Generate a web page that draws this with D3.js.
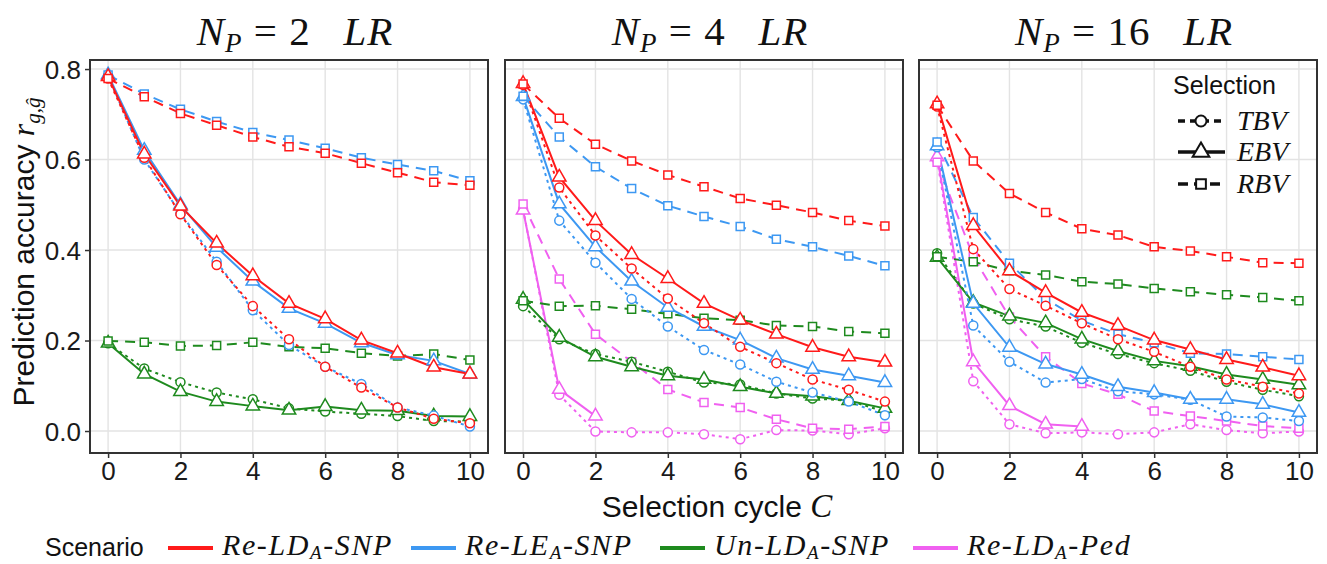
<!DOCTYPE html>
<html>
<head>
<meta charset="utf-8">
<script src="https://cdn.jsdelivr.net/npm/d3@7"></script>
<style>
  body { margin: 0; background: #fff; }
  svg { display: block; }
</style>
</head>
<body>
<svg id="chart"></svg>
<script>
// ---- data ----
const cycles = [0, 1, 2, 3, 4, 5, 6, 7, 8, 9, 10];
const panelTitles = ["2", "4", "16"];
const scenarios = ["Re-LD", "Re-LE", "Un-LD", "Re-LD-Ped"];
const selections = ["TBV", "EBV", "RBV"];
const yTicks = [0, 0.2, 0.4, 0.6, 0.8];
const xTicks = [0, 2, 4, 6, 8, 10];

// N_P = 2
const p2_reLD_TBV = [0.779, 0.604, 0.479, 0.367, 0.276, 0.203, 0.142, 0.096, 0.052, 0.027, 0.017];
const p2_reLD_EBV = [0.783, 0.612, 0.497, 0.415, 0.343, 0.282, 0.248, 0.201, 0.172, 0.141, 0.126];
const p2_reLD_RBV = [0.779, 0.739, 0.702, 0.676, 0.650, 0.628, 0.614, 0.592, 0.571, 0.550, 0.543];
const p2_reLE_TBV = [0.785, 0.600, 0.481, 0.374, 0.267, 0.190, 0.142, 0.104, 0.052, 0.034, 0.010];
const p2_reLE_EBV = [0.787, 0.620, 0.500, 0.406, 0.331, 0.271, 0.238, 0.195, 0.168, 0.155, 0.126];
const p2_reLE_RBV = [0.787, 0.745, 0.711, 0.684, 0.660, 0.643, 0.625, 0.604, 0.589, 0.575, 0.553];
const p2_unLD_TBV = [0.194, 0.138, 0.108, 0.085, 0.070, 0.050, 0.043, 0.038, 0.033, 0.022, 0.021];
const p2_unLD_EBV = [0.194, 0.126, 0.087, 0.065, 0.055, 0.046, 0.054, 0.046, 0.045, 0.033, 0.032];
const p2_unLD_RBV = [0.199, 0.196, 0.188, 0.189, 0.196, 0.186, 0.183, 0.172, 0.166, 0.170, 0.157];

// N_P = 4
const p4_reLD_TBV = [0.765, 0.538, 0.432, 0.359, 0.293, 0.238, 0.186, 0.150, 0.114, 0.091, 0.065];
const p4_reLD_EBV = [0.768, 0.561, 0.465, 0.390, 0.337, 0.282, 0.245, 0.214, 0.185, 0.164, 0.152];
const p4_reLD_RBV = [0.767, 0.691, 0.634, 0.597, 0.566, 0.540, 0.514, 0.499, 0.483, 0.465, 0.453];
const p4_reLE_TBV = [0.733, 0.465, 0.372, 0.292, 0.231, 0.179, 0.147, 0.109, 0.085, 0.065, 0.035];
const p4_reLE_EBV = [0.739, 0.502, 0.407, 0.331, 0.273, 0.231, 0.201, 0.161, 0.136, 0.122, 0.107];
const p4_reLE_RBV = [0.740, 0.650, 0.584, 0.536, 0.498, 0.474, 0.452, 0.424, 0.407, 0.387, 0.365];
const p4_unLD_TBV = [0.276, 0.203, 0.170, 0.153, 0.131, 0.107, 0.103, 0.083, 0.072, 0.067, 0.043];
const p4_unLD_EBV = [0.291, 0.207, 0.164, 0.142, 0.122, 0.114, 0.098, 0.083, 0.077, 0.067, 0.050];
const p4_unLD_RBV = [0.288, 0.276, 0.277, 0.269, 0.259, 0.249, 0.245, 0.233, 0.231, 0.220, 0.216];
const p4_ped_TBV = [0.490, 0.080, -0.001, -0.003, -0.003, -0.007, -0.018, 0.002, 0.001, -0.007, 0.006];
const p4_ped_EBV = [0.488, 0.092, 0.033];
const p4_ped_RBV = [0.502, 0.336, 0.214, 0.153, 0.092, 0.063, 0.052, 0.026, 0.006, 0.004, 0.010];

// N_P = 16
const p16_reLD_TBV = [0.717, 0.402, 0.314, 0.277, 0.238, 0.203, 0.175, 0.142, 0.114, 0.098, 0.083];
const p16_reLD_EBV = [0.723, 0.454, 0.354, 0.306, 0.262, 0.233, 0.201, 0.180, 0.158, 0.141, 0.122];
const p16_reLD_RBV = [0.720, 0.597, 0.525, 0.483, 0.447, 0.433, 0.407, 0.398, 0.385, 0.372, 0.371];
const p16_reLE_TBV = [0.627, 0.233, 0.153, 0.107, 0.115, 0.088, 0.081, 0.069, 0.032, 0.030, 0.022];
const p16_reLE_EBV = [0.630, 0.282, 0.185, 0.148, 0.125, 0.098, 0.085, 0.070, 0.070, 0.059, 0.041];
const p16_reLE_RBV = [0.639, 0.472, 0.371, 0.292, 0.244, 0.214, 0.195, 0.172, 0.170, 0.164, 0.158];
const p16_unLD_TBV = [0.393, 0.282, 0.247, 0.231, 0.195, 0.170, 0.150, 0.133, 0.109, 0.091, 0.077];
const p16_unLD_EBV = [0.384, 0.284, 0.254, 0.239, 0.203, 0.177, 0.155, 0.143, 0.125, 0.114, 0.102];
const p16_unLD_RBV = [0.385, 0.374, 0.354, 0.345, 0.330, 0.325, 0.315, 0.308, 0.301, 0.295, 0.288];
const p16_ped_TBV = [0.600, 0.110, 0.015, -0.005, -0.003, -0.007, -0.003, 0.015, 0.002, -0.005, -0.001];
const p16_ped_EBV = [0.606, 0.153, 0.056, 0.015, 0.010];
const p16_ped_RBV = [0.594, 0.385, 0.252, 0.164, 0.105, 0.081, 0.044, 0.033, 0.022, 0.011, 0.006];

// ---- styling ----
const colors = { "Re-LD": "#FF1A1A", "Re-LE": "#3D98F2", "Un-LD": "#1E8A1E", "Re-LD-Ped": "#F060F0" };
const dashes = { TBV: "3,4", EBV: null, RBV: "10,7" };
const shapes = { TBV: d3.symbolCircle, EBV: d3.symbolTriangle, RBV: d3.symbolSquare };
const shapeSize = { TBV: 64, EBV: 78, RBV: 64 };

const panels = [
  { n: panelTitles[0], series: [
    ["Un-LD", "TBV", p2_unLD_TBV], ["Un-LD", "EBV", p2_unLD_EBV], ["Un-LD", "RBV", p2_unLD_RBV],
    ["Re-LE", "TBV", p2_reLE_TBV], ["Re-LE", "EBV", p2_reLE_EBV], ["Re-LE", "RBV", p2_reLE_RBV],
    ["Re-LD", "TBV", p2_reLD_TBV], ["Re-LD", "EBV", p2_reLD_EBV], ["Re-LD", "RBV", p2_reLD_RBV]] },
  { n: panelTitles[1], series: [
    ["Re-LD-Ped", "TBV", p4_ped_TBV], ["Re-LD-Ped", "EBV", p4_ped_EBV], ["Re-LD-Ped", "RBV", p4_ped_RBV],
    ["Un-LD", "TBV", p4_unLD_TBV], ["Un-LD", "EBV", p4_unLD_EBV], ["Un-LD", "RBV", p4_unLD_RBV],
    ["Re-LE", "TBV", p4_reLE_TBV], ["Re-LE", "EBV", p4_reLE_EBV], ["Re-LE", "RBV", p4_reLE_RBV],
    ["Re-LD", "TBV", p4_reLD_TBV], ["Re-LD", "EBV", p4_reLD_EBV], ["Re-LD", "RBV", p4_reLD_RBV]] },
  { n: panelTitles[2], series: [
    ["Re-LD-Ped", "TBV", p16_ped_TBV], ["Re-LD-Ped", "EBV", p16_ped_EBV], ["Re-LD-Ped", "RBV", p16_ped_RBV],
    ["Un-LD", "TBV", p16_unLD_TBV], ["Un-LD", "EBV", p16_unLD_EBV], ["Un-LD", "RBV", p16_unLD_RBV],
    ["Re-LE", "TBV", p16_reLE_TBV], ["Re-LE", "EBV", p16_reLE_EBV], ["Re-LE", "RBV", p16_reLE_RBV],
    ["Re-LD", "TBV", p16_reLD_TBV], ["Re-LD", "EBV", p16_reLD_EBV], ["Re-LD", "RBV", p16_reLD_RBV]] }
];

const W = 1327, H = 564;
const panelLeft = [90, 505, 919], panelW = 398;
const plotTop = 60, plotBottom = 453;
const sans = "Liberation Sans, Arial, sans-serif";
const serif = "Liberation Serif, Times New Roman, serif";

const svg = d3.select("#chart").attr("width", W).attr("height", H);

const y = d3.scaleLinear().domain([-0.0486, 0.82]).range([plotBottom, plotTop]);

panels.forEach((p, i) => {
  const x0 = panelLeft[i];
  const x = d3.scaleLinear().domain([-0.5, 10.5]).range([x0, x0 + panelW]);
  const g = svg.append("g");

  // grid
  g.selectAll(".gy").data(yTicks).enter().append("line")
    .attr("x1", x0).attr("x2", x0 + panelW)
    .attr("y1", d => y(d)).attr("y2", d => y(d))
    .attr("stroke", "#e3e3e3").attr("stroke-width", 1.4);
  g.selectAll(".gx").data(xTicks).enter().append("line")
    .attr("y1", plotTop).attr("y2", plotBottom)
    .attr("x1", d => x(d)).attr("x2", d => x(d))
    .attr("stroke", "#e3e3e3").attr("stroke-width", 1.4);

  // series
  const line = d3.line().x((d, k) => x(cycles[k])).y(d => y(d));
  p.series.forEach(([sc, sel, vals]) => {
    g.append("path")
      .attr("d", line(vals))
      .attr("fill", "none")
      .attr("stroke", colors[sc])
      .attr("stroke-width", 2)
      .attr("stroke-dasharray", dashes[sel]);
  });
  p.series.forEach(([sc, sel, vals]) => {
    g.selectAll(null).data(vals).enter().append("path")
      .attr("d", d3.symbol().type(shapes[sel]).size(shapeSize[sel]))
      .attr("transform", (d, k) => `translate(${x(cycles[k])},${y(d)})`)
      .attr("fill", "white")
      .attr("stroke", colors[sc])
      .attr("stroke-width", 1.5);
  });

  // frame
  g.append("rect").attr("x", x0).attr("y", plotTop).attr("width", panelW).attr("height", plotBottom - plotTop)
    .attr("fill", "none").attr("stroke", "#333").attr("stroke-width", 2);

  // x axis
  const xa = svg.append("g").attr("transform", `translate(0,${plotBottom})`)
    .call(d3.axisBottom(x).tickValues(xTicks).tickSize(5).tickPadding(4).tickFormat(d3.format("d")));
  xa.select(".domain").remove();
  xa.selectAll("line").attr("stroke", "#333").attr("stroke-width", 1.5);
  xa.selectAll("text").attr("font-family", sans).attr("font-size", 26).attr("fill", "#1a1a1a");

  if (i === 0) {
    const ya = svg.append("g").attr("transform", `translate(${x0},0)`)
      .call(d3.axisLeft(y).tickValues(yTicks).tickSize(5).tickPadding(4).tickFormat(d3.format(".1f")));
    ya.select(".domain").remove();
    ya.selectAll("line").attr("stroke", "#333").attr("stroke-width", 1.5);
    ya.selectAll("text").attr("font-family", sans).attr("font-size", 26).attr("fill", "#1a1a1a")
      .attr("dy", "0.36em");
  }

  // title
  const t = svg.append("text").attr("x", x0 + panelW / 2 + 6).attr("y", 45)
    .attr("text-anchor", "middle").attr("font-family", serif).attr("font-size", 41)
    .attr("letter-spacing", 1).attr("fill", "#111");
  t.append("tspan").attr("font-style", "italic").text("N");
  t.append("tspan").attr("font-style", "italic").attr("font-size", 27).attr("dy", 7).text("P");
  t.append("tspan").attr("dy", -7).text(" = " + p.n + "\u2002 ");
  t.append("tspan").attr("font-style", "italic").text("LR");
});

// y label
const yl = svg.append("text").attr("transform", "translate(34,252) rotate(-90)")
  .attr("text-anchor", "middle").attr("font-family", sans).attr("font-size", 30).attr("fill", "#111");
yl.append("tspan").text("Prediction accuracy ");
yl.append("tspan").attr("font-family", serif).attr("font-style", "italic").attr("font-size", 32).text("r");
yl.append("tspan").attr("font-family", serif).attr("font-style", "italic").attr("font-size", 21).attr("dy", 6).text("g,\u011D");

// x label
const xl = svg.append("text").attr("x", 717).attr("y", 517)
  .attr("text-anchor", "middle").attr("font-family", sans).attr("font-size", 30).attr("fill", "#111");
xl.append("tspan").text("Selection cycle ");
xl.append("tspan").attr("font-family", serif).attr("font-style", "italic").attr("font-size", 33).text("C");

// selection legend (inside panel 3)
const sl = svg.append("g");
sl.append("text").attr("x", 1173).attr("y", 94).attr("font-family", sans).attr("font-size", 25)
  .attr("fill", "#111").text("Selection");
const selY = [121, 152, 184];
selections.forEach((s, k) => {
  const row = sl.append("g").attr("transform", `translate(0,${selY[k]})`);
  row.append("line").attr("x1", 1178).attr("x2", 1225).attr("y1", 0).attr("y2", 0)
    .attr("stroke", "#111").attr("stroke-width", 3.5).attr("stroke-dasharray", s === "TBV" ? "7,5" : s === "RBV" ? "10,6" : null);
  row.append("path").attr("d", d3.symbol().type(shapes[s]).size(s === "EBV" ? 120 : 95)).attr("transform", "translate(1201,0)")
    .attr("fill", "white").attr("stroke", "#111").attr("stroke-width", 2);
  row.append("text").attr("x", 1237).attr("y", 9).attr("font-family", serif).attr("font-style", "italic")
    .attr("font-size", 28).attr("fill", "#111").text(s);
});

// scenario legend (bottom)
const lg = svg.append("g");
lg.append("text").attr("x", 45).attr("y", 556).attr("font-family", sans).attr("font-size", 25)
  .attr("fill", "#111").text("Scenario");
const keyX = [168, 411, 660, 913];
const labelParts = [["Re", "LD", "SNP"], ["Re", "LE", "SNP"], ["Un", "LD", "SNP"], ["Re", "LD", "Ped"]];
scenarios.forEach((sc, k) => {
  lg.append("line").attr("x1", keyX[k]).attr("x2", keyX[k] + 45).attr("y1", 548).attr("y2", 548)
    .attr("stroke", colors[sc]).attr("stroke-width", 4);
  const tx = lg.append("text").attr("x", keyX[k] + 54).attr("y", 555)
    .attr("font-family", serif).attr("font-size", 30).attr("letter-spacing", 1.6).attr("fill", "#111");
  const [a, b, c] = labelParts[k];
  tx.append("tspan").attr("font-style", "italic").text(a);
  tx.append("tspan").text("-");
  tx.append("tspan").attr("font-style", "italic").text(b);
  tx.append("tspan").attr("font-style", "italic").attr("font-size", 19).attr("dy", 4).text("A");
  tx.append("tspan").attr("dy", -4).text("-");
  tx.append("tspan").attr("font-style", "italic").text(c);
});
</script>
</body>
</html>
